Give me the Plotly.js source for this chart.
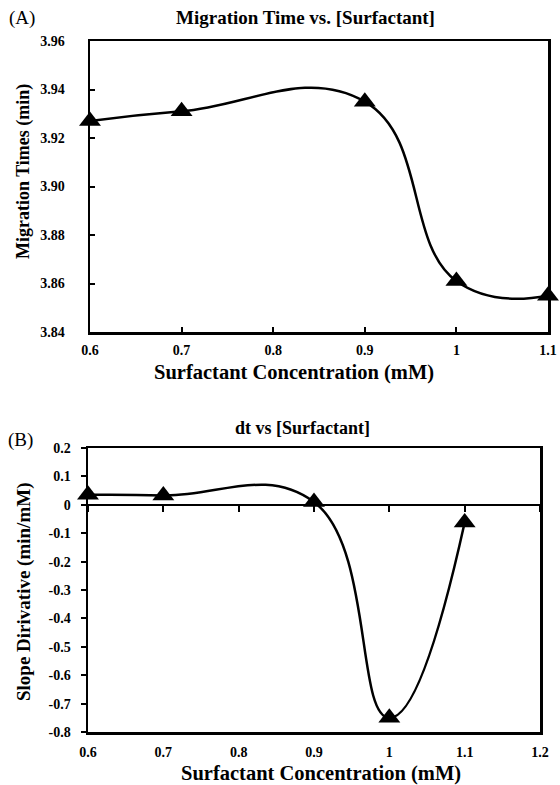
<!DOCTYPE html>
<html><head><meta charset="utf-8">
<script src="https://cdn.plot.ly/plotly-3.0.1.min.js"></script>
<style>html,body{margin:0;padding:0;background:#fff}#chart{width:560px;height:785px}</style>
</head><body><div id="chart"></div>
<script>
// Panel A data
var concA = [0.6, 0.7, 0.9, 1.0, 1.1];
var migTime = [3.927, 3.931, 3.935, 3.861, 3.855];
// Panel B data
var concB = [0.6, 0.7, 0.9, 1.0, 1.1];
var slopeDeriv = [0.035, 0.033, 0.01, -0.75, -0.062];
// Tick labels
var yTickValsB = [0.2, 0.1, 0, -0.1, -0.2, -0.3, -0.4, -0.5, -0.6, -0.7, -0.8];
var yTickTextB = ["0.2", "0.1", "0", "-0.1", "-0.2", "-0.3", "-0.4", "-0.5", "-0.6", "-0.7", "-0.8"];

var F = "Liberation Serif, Times New Roman, serif";
var tickFont = {family: F, size: 14, color: "#000", weight: "bold"};

function mkTrace(x, y, xa, ya) {
  return {
    x: x, y: y, xaxis: xa, yaxis: ya,
    mode: "lines+markers",
    line: {shape: "spline", smoothing: 1.3, color: "#000", width: 2.5},
    marker: {symbol: "triangle-up", size: 19, color: "#000"},
    cliponaxis: false,
    showlegend: false
  };
}

var W = 560, H = 785;
function fx(px){return px / W;}
function fy(py){return 1 - py / H;}

var yB0 = 0.2, yB1 = -0.8; // panel B y range (top, bottom)
var zeroPx = 448 + (yB0 - 0) / (yB0 - yB1) * (732 - 448);

// carrier (draws nothing) so the zero-crossing tick axis subplot exists
var tickCarrier = {x: concB, y: slopeDeriv, xaxis: "x3", yaxis: "y3", mode: "none", hoverinfo: "skip", showlegend: false};

var layout = {
  width: W, height: H,
  margin: {l: 0, r: 0, t: 0, b: 0},
  paper_bgcolor: "#fff", plot_bgcolor: "rgba(0,0,0,0)",
  xaxis: {
    domain: [fx(90), fx(548)], anchor: "y", range: [0.6, 1.1], dtick: 0.1, tick0: 0.6,
    showgrid: false, zeroline: false, showline: true, mirror: true, linecolor: "#000", linewidth: 2.5,
    ticks: "inside", ticklen: 5, tickwidth: 2, tickcolor: "#000", tickfont: tickFont, ticklabelstandoff: 4
  },
  yaxis: {
    domain: [fy(332), fy(41)], anchor: "x", range: [3.84, 3.96], dtick: 0.02, tick0: 3.84, tickformat: ".2f",
    showgrid: false, zeroline: false, showline: true, mirror: true, linecolor: "#000", linewidth: 2.5,
    ticks: "inside", ticklen: 5, tickwidth: 2, tickcolor: "#000", tickfont: tickFont, ticklabelstandoff: 20
  },
  xaxis2: {
    domain: [fx(88), fx(540)], anchor: "y2", range: [0.6, 1.2], dtick: 0.1, tick0: 0.6,
    showgrid: false, zeroline: false, showline: true, mirror: true, linecolor: "#000", linewidth: 2.5,
    ticks: "", tickfont: tickFont, ticklabelstandoff: 6
  },
  yaxis2: {
    domain: [fy(732), fy(448)], anchor: "x2", range: [yB1, yB0],
    tickmode: "array", tickvals: yTickValsB, ticktext: yTickTextB,
    showgrid: false, zeroline: true, zerolinecolor: "#000", zerolinewidth: 2.5,
    showline: true, mirror: true, linecolor: "#000", linewidth: 2.5,
    ticks: "outside", ticklen: 5, tickwidth: 2, tickcolor: "#000", tickfont: tickFont, ticklabelstandoff: 7
  },
  xaxis3: {
    domain: [fx(88), fx(540)], anchor: "y3", range: [0.6, 1.2], dtick: 0.1, tick0: 0.6, side: "bottom",
    showgrid: false, zeroline: false, showline: false, showticklabels: false,
    ticks: "outside", ticklen: 6, tickwidth: 2, tickcolor: "#000"
  },
  yaxis3: {
    domain: [fy(zeroPx), fy(448)], anchor: "x3", range: [0, yB0],
    showgrid: false, zeroline: false, showline: false, showticklabels: false, ticks: ""
  },
  annotations: [
    {text: "(A)", x: fx(7), y: fy(18), xref: "paper", yref: "paper", xanchor: "left", yanchor: "middle", showarrow: false, font: {family: F, size: 19, color: "#000"}},
    {text: "Migration Time vs. [Surfactant]", x: fx(306), y: fy(18), xref: "paper", yref: "paper", xanchor: "center", yanchor: "middle", showarrow: false, font: {family: F, size: 19, color: "#000", weight: "bold"}},
    {text: "Surfactant Concentration (mM)", x: fx(294), y: fy(372), xref: "paper", yref: "paper", xanchor: "center", yanchor: "middle", showarrow: false, font: {family: F, size: 20.5, color: "#000", weight: "bold"}},
    {text: "Migration Times (min)", x: fx(24), y: fy(172), xref: "paper", yref: "paper", xanchor: "center", yanchor: "middle", textangle: -90, showarrow: false, font: {family: F, size: 18, color: "#000", weight: "bold"}},
    {text: "(B)", x: fx(6), y: fy(440), xref: "paper", yref: "paper", xanchor: "left", yanchor: "middle", showarrow: false, font: {family: F, size: 19, color: "#000"}},
    {text: "dt vs [Surfactant]", x: fx(302), y: fy(428), xref: "paper", yref: "paper", xanchor: "center", yanchor: "middle", showarrow: false, font: {family: F, size: 18, color: "#000", weight: "bold"}},
    {text: "Surfactant Concentration (mM)", x: fx(321), y: fy(773), xref: "paper", yref: "paper", xanchor: "center", yanchor: "middle", showarrow: false, font: {family: F, size: 20.5, color: "#000", weight: "bold"}},
    {text: "Slope Dirivative (min/mM)", x: fx(24), y: fy(592), xref: "paper", yref: "paper", xanchor: "center", yanchor: "middle", textangle: -90, showarrow: false, font: {family: F, size: 19, color: "#000", weight: "bold"}}
  ]
};

Plotly.newPlot("chart", [mkTrace(concA, migTime, "x", "y"), tickCarrier, mkTrace(concB, slopeDeriv, "x2", "y2")], layout, {staticPlot: true, displayModeBar: false});
</script>
</body></html>
